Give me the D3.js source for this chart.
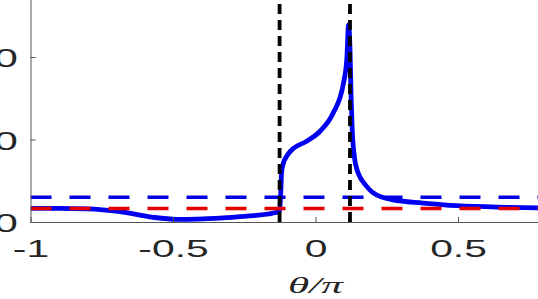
<!DOCTYPE html>
<html>
<head>
<meta charset="utf-8">
<script src="https://cdn.jsdelivr.net/npm/d3@7"></script>
<style>
  body { margin: 0; background: #fff; }
  svg { display: block; }
</style>
</head>
<body>
<div id="chart"></div>
<script>
// curve (theta/pi, value)
var theta = [-1, -0.9, -0.8, -0.686, -0.57, -0.486, -0.335, -0.22, -0.135, -0.126,
  -0.122, -0.119, -0.113, -0.104, -0.095, -0.078, -0.031, 0.016, 0.062, 0.098,
  0.110, 0.116, 0.121, 0.125, 0.129, 0.134, 0.139, 0.147, 0.156, 0.175, 0.2,
  0.272, 0.377, 0.496, 0.672, 0.8];
var values = [1.66, 1.66, 1.6, 1.25, 0.57, 0.33, 0.48, 0.76, 1.18, 1.3,
  3.5, 6.0, 7.1, 7.8, 8.3, 8.9, 9.8, 11.0, 13.2, 16.8,
  19.8, 23.9, 21, 15, 11, 8.6, 7.3, 6.2, 5.45, 4.5, 3.6,
  2.67, 2.3, 1.98, 1.78, 1.7];
var blueLevel = 3.0;
var redLevel = 1.65;
var vLines = [-0.126, 0.121];
var xTicks = [-1, -0.5, 0, 0.5];
var yTicks = [0, 10, 20];

var svgWidth = 538, svgHeight = 299;
var left = 30.5, bottom = 222;

var svg = d3.select("#chart").append("svg")
  .attr("width", svgWidth)
  .attr("height", svgHeight);

var x = d3.scaleLinear().domain([-1, 1]).range([left, left + 570]);
var y = d3.scaleLinear().domain([0, 30]).range([bottom, bottom - 30 * 8.25]);

svg.append("clipPath").attr("id", "clip")
  .append("rect")
  .attr("x", left).attr("y", 0)
  .attr("width", svgWidth - left).attr("height", bottom);

var plot = svg.append("g").attr("clip-path", "url(#clip)");

var pts = theta.map(function(t, i) { return [t, values[i]]; });

var line = d3.line()
  .x(function(d) { return x(d[0]); })
  .y(function(d) { return y(d[1]); })
  .curve(d3.curveMonotoneX);

plot.append("path")
  .datum(pts)
  .attr("d", line)
  .attr("fill", "none")
  .attr("stroke", "#0000f0")
  .attr("stroke-width", 4.8)
  .attr("stroke-linejoin", "round");

// horizontal reference levels
[[blueLevel, "#0000e6"], [redLevel, "#e60000"]].forEach(function(l) {
  plot.append("line")
    .attr("x1", x(-1)).attr("x2", svgWidth)
    .attr("y1", y(l[0])).attr("y2", y(l[0]))
    .attr("stroke", l[1])
    .attr("stroke-width", 3.5)
    .attr("stroke-dasharray", "21,18");
});

plot.selectAll(".vline")
  .data(vLines)
  .enter().append("line")
  .attr("class", "vline")
  .attr("x1", function(d) { return x(d); })
  .attr("x2", function(d) { return x(d); })
  .attr("y1", bottom).attr("y2", 0)
  .attr("stroke", "#000")
  .attr("stroke-width", 3.8)
  .attr("stroke-dasharray", "10,6");

var axisColor = "#555";
var textColor = "#262626";

var xAxis = svg.append("g")
  .attr("transform", "translate(0," + bottom + ")")
  .call(d3.axisBottom(x).tickValues(xTicks).tickSizeInner(-5).tickSizeOuter(0)
    .tickFormat(function(d) { return String(d); }));

xAxis.select(".domain").attr("stroke", axisColor).attr("d", "M" + left + ",0.5H" + svgWidth);
xAxis.selectAll(".tick line").attr("stroke", axisColor);
xAxis.selectAll(".tick text")
  .attr("y", 0).attr("dy", null)
  .attr("transform", "translate(0,35) scale(1.7,1)")
  .attr("fill", textColor)
  .style("font-family", "'Liberation Sans', Arial, sans-serif")
  .style("font-size", "24px");

var yAxis = svg.append("g")
  .attr("transform", "translate(" + left + ",0)")
  .call(d3.axisLeft(y).tickValues(yTicks).tickSizeInner(-5).tickSizeOuter(0));

yAxis.select(".domain").attr("stroke", axisColor).attr("d", "M0.5,0V" + bottom);
yAxis.selectAll(".tick line").attr("stroke", axisColor);
yAxis.selectAll(".tick text")
  .attr("x", 0).attr("dy", null)
  .attr("transform", "translate(-12.5,9.5) scale(1.7,1)")
  .attr("text-anchor", "end")
  .attr("fill", textColor)
  .style("font-family", "'Liberation Sans', Arial, sans-serif")
  .style("font-size", "25px");

svg.append("text")
  .attr("transform", "translate(" + x(0) + ",293) scale(1.8,1)")
  .attr("text-anchor", "middle")
  .attr("fill", textColor)
  .style("font-family", "'Liberation Serif', 'Times New Roman', serif")
  .style("font-style", "italic")
  .style("font-size", "24px")
  .text("θ/π");
</script>
</body>
</html>
